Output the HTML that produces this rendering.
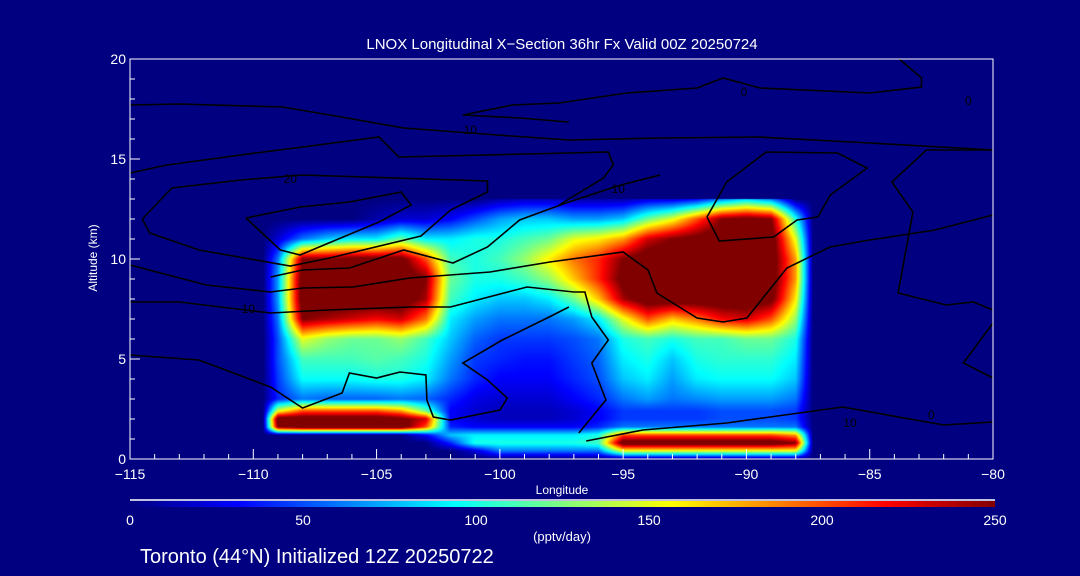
<!DOCTYPE html>
<html><head><meta charset="utf-8"><style>
html,body{margin:0;padding:0;background:#000080;}
#wrap{position:relative;width:1080px;height:576px;overflow:hidden;background:#000080;font-family:"Liberation Sans",sans-serif;}
canvas,svg{position:absolute;left:0;top:0;}
</style></head><body>
<div id="wrap">
<canvas id="heat" width="1080" height="576"></canvas>
<svg id="svg" width="1080" height="576">
<defs><linearGradient id="jet" x1="0" x2="1" y1="0" y2="0">
<stop offset="0" stop-color="#000080"/><stop offset="0.125" stop-color="#0000ff"/><stop offset="0.375" stop-color="#00ffff"/><stop offset="0.625" stop-color="#ffff00"/><stop offset="0.875" stop-color="#ff0000"/><stop offset="1" stop-color="#800000"/></linearGradient></defs>
</svg>
</div>
<script>
// grid data: longitudes (columns) and altitudes (rows), values in pptv/day
const gridLons = [-109.6,-109,-108,-107,-106,-105,-104,-103,-102,-101,-100,-99,-98,-97,-96,-95,-94,-93,-92,-91,-90,-89,-88,-87.3];
const gridAlts = [0,0.4,0.8,1.2,1.6,2.0,2.4,3,4,5,6,7,8,9,10,11,12,13];
const row0  = [0,0,0,0,0,0,0,0,0,0,0,0,0,0,0,0,0,0,0,0,0,0,0,0];
const row04 = [0,0,0,0,0,0,0,0,0,20,60,60,60,60,60,150,150,150,150,150,150,150,150,0];
const row08 = [0,0,0,0,0,0,0,0,40,100,100,100,100,100,110,270,270,270,270,270,270,270,250,0];
const row12 = [0,0,0,0,0,0,0,30,80,90,90,90,90,90,100,200,200,200,200,200,200,200,180,0];
const row16 = [0,250,270,270,270,270,270,200,40,30,30,30,30,30,40,60,60,60,60,60,60,60,60,0];
const row20 = [0,270,270,270,270,270,260,230,30,20,15,15,15,20,30,45,45,45,45,50,50,50,45,0];
const row24 = [0,150,200,200,200,200,180,120,30,20,15,15,15,20,30,45,45,45,45,50,50,50,45,0];
const row3  = [0,40,60,55,55,55,60,55,40,25,20,20,20,30,40,60,70,60,65,70,70,70,60,0];
const row4  = [0,45,95,95,95,100,100,90,60,40,30,30,30,40,50,80,90,70,90,95,95,95,80,0];
const row5  = [0,50,110,110,110,115,110,100,70,45,40,35,35,45,55,90,100,80,100,105,105,105,90,0];
const row6  = [0,50,150,130,120,120,130,110,80,55,45,45,45,50,60,100,110,100,110,110,120,120,100,0];
const row7  = [0,60,250,240,230,220,230,190,90,70,60,60,60,70,90,150,200,170,190,220,230,200,130,0];
const row8  = [0,70,270,270,270,270,270,240,110,90,80,80,90,120,170,240,270,270,270,270,270,260,160,0];
const row9  = [0,70,270,270,270,270,270,250,120,100,100,110,130,170,210,260,270,270,270,270,270,270,180,0];
const row10 = [0,60,250,250,260,260,260,200,110,100,110,130,160,190,210,250,270,270,270,270,270,270,180,0];
const row11 = [0,20,60,80,90,90,120,90,90,100,100,110,120,150,160,180,230,250,260,270,270,270,150,0];
const row12k = [0,0,0,0,0,10,20,20,30,50,70,80,80,70,70,80,120,150,200,250,260,250,100,0];
const row13 = [0,0,0,0,0,0,0,0,0,0,10,15,15,10,10,10,20,20,30,60,80,60,0,0];
const gridRows = [row0,row04,row08,row12,row16,row20,row24,row3,row4,row5,row6,row7,row8,row9,row10,row11,row12k,row13];
const xTicks = [-115,-110,-105,-100,-95,-90,-85,-80];
const yTicks = [0,5,10,15,20];
const cbTicks = [0,50,100,150,200,250];
// contour lines [lon, alt]
const contourA = [[-115,17.7],[-113,17.75],[-108.8,17.6],[-106.2,17.05],[-103.9,16.55],[-100.1,16.2],[-97.2,15.95],[-93.5,16.05],[-89.5,16.1],[-85,15.8],[-80,15.45]];
const contourB = [[-115,14.3],[-113.5,14.7],[-109.9,15.3],[-108,15.6],[-104.9,16.1],[-104.1,15.1],[-97.2,15.3],[-95.6,15.35],[-95.4,14.7],[-95.8,14.05],[-97.6,12.7]];
const contourC = [[-114.5,12],[-113.3,13.55],[-110.5,13.95],[-108,14.2],[-100.5,13.9],[-100.5,13.35],[-102,12.45],[-103.2,11.15],[-106.9,10.05],[-108.5,9.65],[-112.2,10.45],[-114.2,11.3],[-114.5,12]];
const contourD = [[-110.3,12.05],[-108.1,12.6],[-106.1,12.85],[-104,13.35],[-103.6,12.7],[-104.9,11.85],[-108.1,10.2],[-108.9,10.45],[-110.3,12.05]];
const contourL1 = [[-109.3,9.1],[-108,9.45],[-106.1,9.55],[-103.9,10.45],[-101.9,9.8],[-100.5,10.6],[-99.2,11.95],[-98.1,12.45],[-97.2,12.85],[-95.1,13.7],[-93.5,14.2]];
const contourL2 = [[-115,9.7],[-111.9,8.7],[-109.32,8.35],[-107.98,8.55],[-105.96,8.6],[-103.65,9.05],[-100.4,9.35],[-97.97,9.85],[-95,10.35],[-93.99,9.45],[-93.63,8.3],[-92,7.05],[-90.95,6.85],[-89.98,7.05],[-88.36,9.55],[-86.61,10.6],[-85,10.95],[-82.36,11.45],[-80,12.2]];
const contourL3 = [[-115,7.85],[-113,7.85],[-109.3,7.3],[-107,7.45],[-103.65,7.6],[-102,7.6],[-98.9,8.6],[-97,8.35],[-96.55,8.35],[-96.27,7.1],[-95.6,5.95],[-96.27,4.8],[-95.7,2.95],[-96.8,1.3]];
const contourL4 = [[-115,5.2],[-112.2,4.95],[-109.3,3.6],[-108,2.55],[-106.4,3.3],[-106.1,4.3],[-105,4.05],[-104.05,4.35],[-103,4.2],[-102.96,2.95],[-102.7,2.1],[-102,1.95],[-100,2.45],[-99.7,3.05],[-100.5,3.95],[-101.5,4.8],[-99.9,5.95],[-98,7.1],[-97.2,7.6]];
const contourR1 = [[-83.8,20],[-82.9,19.05],[-82.9,18.6],[-85,18.3],[-89.45,18.55],[-90.95,19.05],[-92,18.55],[-94.85,18.3],[-97.6,17.8],[-99.5,17.7],[-101.5,17.2],[-99.2,17.05],[-97.2,16.85]];
const contourR2 = [[-91.6,12.1],[-91.1,10.9],[-88.9,11.1],[-87.95,11.95],[-87.1,12.1],[-86.6,13.2],[-85.1,14.55],[-86.3,15.3],[-89.2,15.35],[-90.8,13.85],[-91.6,12.1]];
const contourR3 = [[-80,15.45],[-82.7,15.45],[-84.1,13.85],[-83.25,12.35],[-83.85,8.3],[-81.9,7.7],[-80.8,7.85],[-80,7.45]];
const contourR4 = [[-80,6.8],[-81.2,4.8],[-80,4.05]];
const contourR5 = [[-96.5,0.9],[-94.2,1.45],[-90.8,1.8],[-86.1,2.6],[-82,1.7],[-80,1.85]];
const contours = [contourA,contourB,contourC,contourD,contourL1,contourL2,contourL3,contourL4,contourR1,contourR2,contourR3,contourR4,contourR5];

const X0=130, X1=993, Y0=459, Y1=59;
const LON0=-115, LON1=-80, ALT0=0, ALT1=20;
function xs(lon){return X0+(lon-LON0)/(LON1-LON0)*(X1-X0);}
function ys(a){return Y0-(a-ALT0)/(ALT1-ALT0)*(Y0-Y1);}
const CB0=130, CB1=995, CBMAX=250;
function cbx(v){return CB0+v/CBMAX*(CB1-CB0);}
function clamp(v){return Math.max(0,Math.min(1,v));}
function jet(t){t=clamp(t);return [clamp(1.5-Math.abs(4*t-3)),clamp(1.5-Math.abs(4*t-2)),clamp(1.5-Math.abs(4*t-1))].map(v=>Math.round(v*255));}
function sample(lon,alt){
  const n=gridLons.length, m=gridAlts.length;
  if(lon<gridLons[0]||lon>gridLons[n-1]||alt<gridAlts[0]||alt>gridAlts[m-1]) return 0;
  let i=0; while(i<n-2 && gridLons[i+1]<lon) i++;
  let j=0; while(j<m-2 && gridAlts[j+1]<alt) j++;
  const fx=(lon-gridLons[i])/(gridLons[i+1]-gridLons[i]);
  const fy=(alt-gridAlts[j])/(gridAlts[j+1]-gridAlts[j]);
  const a=gridRows[j][i], b=gridRows[j][i+1], c=gridRows[j+1][i], d=gridRows[j+1][i+1];
  return (a*(1-fx)+b*fx)*(1-fy)+(c*(1-fx)+d*fx)*fy;
}
// heatmap
const cv=document.getElementById('heat'), ctx=cv.getContext('2d');
const W=X1-X0, H=Y0-Y1;
const img=ctx.createImageData(W,H);
for(let py=0;py<H;py++){
  const alt=ALT0+(Y0-(Y1+py+0.5))/(Y0-Y1)*(ALT1-ALT0);
  for(let px=0;px<W;px++){
    const lon=LON0+(px+0.5)/(X1-X0)*(LON1-LON0);
    const v=sample(lon,alt);
    const c=jet(v/CBMAX);
    const k=(py*W+px)*4;
    img.data[k]=c[0];img.data[k+1]=c[1];img.data[k+2]=c[2];img.data[k+3]=255;
  }
}
ctx.putImageData(img,X0,Y1);

const svg=document.getElementById('svg');
const NS='http://www.w3.org/2000/svg';
function mk(tag,attrs,text){const e=document.createElementNS(NS,tag);for(const k in attrs)e.setAttribute(k,attrs[k]);if(text!==undefined)e.textContent=text;svg.appendChild(e);return e;}

// contours
contours.forEach(function(c){
  const e=mk('polyline',{points:c.map(p=>xs(p[0]).toFixed(1)+','+ys(p[1]).toFixed(1)).join(' '),fill:'none',stroke:'#000',"stroke-width":1.6});
  
  
});
const contourLabels=[[-101.2,16.45,'10'],[-108.5,14.0,'20'],[-110.2,7.5,'10'],[-90.1,18.35,'0'],[-95.2,13.5,'10'],[-85.8,1.8,'10'],[-81.0,17.9,'0'],[-82.5,2.2,'0']];
contourLabels.forEach(function(l){
  const e=mk('text',{x:xs(l[0]),y:ys(l[1])+4,fill:'#000','font-size':12,'text-anchor':'middle'},l[2]);
  
  
});

// axes frame
let fr=mk('rect',{x:X0,y:Y1,width:X1-X0,height:Y0-Y1,fill:'none',stroke:'#fff','stroke-width':1});


for(let lon=LON0;lon<=LON1;lon++){
  const major=(lon%5===0);
  const t=mk('line',{x1:xs(lon),x2:xs(lon),y1:Y0,y2:Y0-(major?10:5),stroke:'#fff','stroke-width':1});
  
  
}
xTicks.forEach(function(v){
  const e=mk('text',{x:xs(v),y:Y0+20,fill:'#fff','font-size':14,'text-anchor':'middle'},(v<0?'\u2212':'')+Math.abs(v));
  
  
});
for(let a=ALT0;a<=ALT1;a++){
  const major=(a%5===0);
  const t=mk('line',{x1:X0,x2:X0+(major?10:5),y1:ys(a),y2:ys(a),stroke:'#fff','stroke-width':1});
  
  
}
yTicks.forEach(function(v){
  const e=mk('text',{x:X0-4,y:ys(v)+5,fill:'#fff','font-size':14,'text-anchor':'end'},String(v));
  
  
});
let e;
e=mk('text',{x:562,y:49,fill:'#fff','font-size':15,'text-anchor':'middle'},'LNOX Longitudinal X\u2212Section 36hr  Fx Valid 00Z 20250724');

e=mk('text',{x:562,y:494,fill:'#fff','font-size':12,'text-anchor':'middle'},'Longitude');

e=mk('text',{x:0,y:0,fill:'#fff','font-size':12,'text-anchor':'middle',transform:'translate(97,258) rotate(-90)'},'Altitude (km)');

e=mk('line',{x1:CB0,x2:CB1,y1:500,y2:500,stroke:'#fff','stroke-width':1.5});

e=mk('rect',{x:CB0,y:501,width:CB1-CB0,height:6,fill:'url(#jet)'});

cbTicks.forEach(function(v){
  const t=mk('text',{x:cbx(v),y:525,fill:'#fff','font-size':14,'text-anchor':'middle'},String(v));
  
  
});
e=mk('text',{x:562,y:541,fill:'#fff','font-size':13,'text-anchor':'middle'},'(pptv/day)');

e=mk('text',{x:140,y:563,fill:'#fff','font-size':20},'Toronto (44\u00b0N) Initialized 12Z 20250722');

</script>
</body></html>
